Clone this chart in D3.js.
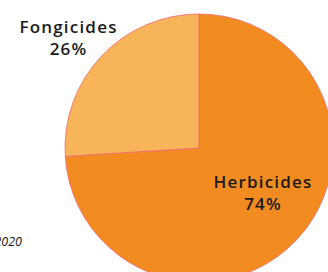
<!DOCTYPE html>
<html lang="fr">
<head>
    <meta charset="UTF-8">
    <title>Herbicides / Fongicides</title>
    <script src="https://d3js.org/d3.v7.min.js"></script>
    <style>
        body {
            margin: 0;
            font-family: "Open Sans", sans-serif;
            background: #fff;
        }
        .slice {
            stroke: #f0666e;
            stroke-width: 0.8px;
        }
        .label {
            font-size: 17px;
            font-weight: 600;
            letter-spacing: 1.2px;
            fill: #1a1a1a;
        }
        .note {
            font-size: 12.5px;
            font-style: italic;
            fill: #1a1a1a;
        }
    </style>
</head>
<body>
    <div id="chart"></div>

    <script>
        // Data
        const categories = ["Herbicides", "Fongicides"];
        const shares = [74, 26];
        const colors = ["#f28c20", "#f8b458"];
        const note = "2020";

        const width = 328, height = 272;
        const cx = 199, cy = 148, radius = 134;

        const svg = d3.select("#chart")
                      .append("svg")
                      .attr("width", width)
                      .attr("height", height);

        const g = svg.append("g")
                     .attr("transform", `translate(${cx}, ${cy})`);

        const data = categories.map((c, i) => ({ name: c, value: shares[i], color: colors[i] }));

        const pie = d3.pie()
                      .sort(null)
                      .value(d => d.value);

        const arc = d3.arc()
                      .innerRadius(0)
                      .outerRadius(radius);

        g.selectAll("path")
         .data(pie(data))
         .join("path")
         .attr("class", "slice")
         .attr("fill", d => d.data.color)
         .attr("d", arc);

        // Labels (placed by hand like the original)
        const labelPos = [
            { x: 263, y: 188 },
            { x: 68.5, y: 33 }
        ];

        data.forEach((d, i) => {
            const t = svg.append("text")
                         .attr("class", "label")
                         .attr("text-anchor", "middle")
                         .attr("x", labelPos[i].x)
                         .attr("y", labelPos[i].y);
            t.append("tspan")
             .attr("x", labelPos[i].x)
             .text(d.name);
            t.append("tspan")
             .attr("x", labelPos[i].x)
             .attr("dy", 22)
             .text(d.value + "%");
        });

        svg.append("text")
           .attr("class", "note")
           .attr("text-anchor", "end")
           .attr("x", 22)
           .attr("y", 246)
           .text(note);
    </script>
</body>
</html>
